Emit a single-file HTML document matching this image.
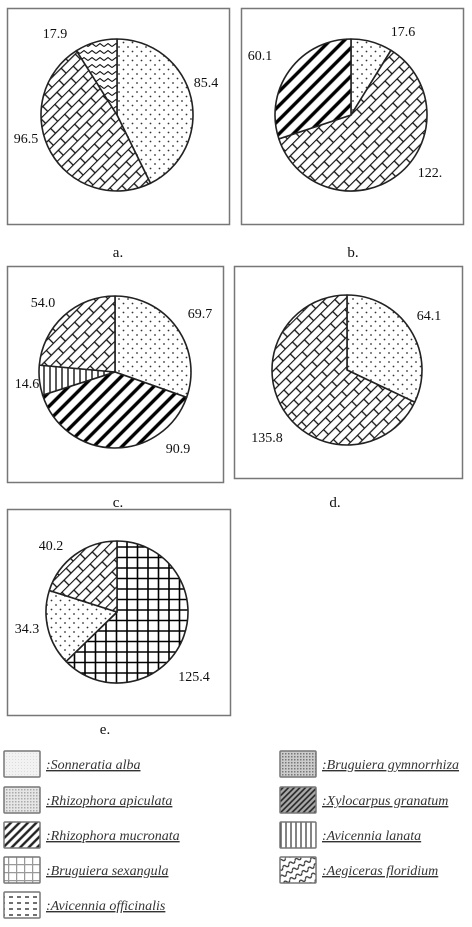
<!DOCTYPE html>
<html><head><meta charset="utf-8"><style>
html,body{margin:0;padding:0;background:#fff;}
svg{display:block;font-family:"Liberation Serif",serif;}
</style></head><body>
<svg id="fig" width="472" height="927" viewBox="0 0 472 927" xmlns="http://www.w3.org/2000/svg">
<defs>
<pattern id="p-dots" width="9" height="9" patternUnits="userSpaceOnUse"><rect width="9" height="9" fill="#fff"/><circle cx="2" cy="2" r="0.9" fill="#333"/><circle cx="6.5" cy="6.5" r="0.9" fill="#333"/></pattern>
<pattern id="p-brick" width="20" height="14" patternUnits="userSpaceOnUse" patternTransform="rotate(-45)"><rect width="20" height="14" fill="#fff"/><path d="M0 0.5H20M0 7.5H20M5 0.5V7.5M15 7.5V14.5" stroke="#111" stroke-width="1.3" fill="none"/></pattern>
<pattern id="p-zig" width="8" height="7" patternUnits="userSpaceOnUse"><rect width="8" height="7" fill="#fff"/><path d="M0 4.5L4 1.5L8 4.5" stroke="#111" stroke-width="1.1" fill="none"/></pattern>
<pattern id="p-diag" width="10" height="10" patternUnits="userSpaceOnUse" patternTransform="rotate(45)"><rect width="10" height="10" fill="#fff"/><line x1="2" y1="0" x2="2" y2="10" stroke="#000" stroke-width="3.4"/></pattern>
<pattern id="p-vert" width="6" height="6" patternUnits="userSpaceOnUse"><rect width="6" height="6" fill="#fff"/><line x1="2" y1="0" x2="2" y2="6" stroke="#000" stroke-width="1.3"/></pattern>
<pattern id="p-grid" width="10.5" height="10.5" patternUnits="userSpaceOnUse"><rect width="10.5" height="10.5" fill="#fff"/><path d="M1 0V10.5M0 1H10.5" stroke="#000" stroke-width="1.6"/></pattern>
<pattern id="l-light" width="3" height="3" patternUnits="userSpaceOnUse"><rect width="3" height="3" fill="#f2f2f2"/><rect width="1" height="1" fill="#ddd"/></pattern>
<pattern id="l-rhap" width="3" height="3" patternUnits="userSpaceOnUse"><rect width="3" height="3" fill="#e6e6e6"/><rect width="1.5" height="1.5" fill="#aaa"/></pattern>
<pattern id="l-diag" width="6" height="6" patternUnits="userSpaceOnUse" patternTransform="rotate(45)"><rect width="6" height="6" fill="#fff"/><line x1="1.5" y1="0" x2="1.5" y2="6" stroke="#222" stroke-width="2.4"/></pattern>
<pattern id="l-grid" width="8" height="8" patternUnits="userSpaceOnUse"><rect width="8" height="8" fill="#fff"/><path d="M0.5 0V8M0 0.5H8" stroke="#999" stroke-width="1.5"/></pattern>
<pattern id="l-dash" width="8" height="6" patternUnits="userSpaceOnUse"><rect width="8" height="6" fill="#fff"/><line x1="1" y1="3" x2="5" y2="3" stroke="#333" stroke-width="1.4"/></pattern>
<pattern id="l-bg" width="3" height="3" patternUnits="userSpaceOnUse"><rect width="3" height="3" fill="#ccc"/><rect width="1.5" height="1.5" fill="#777"/></pattern>
<pattern id="l-xg" width="4" height="4" patternUnits="userSpaceOnUse" patternTransform="rotate(45)"><rect width="4" height="4" fill="#aaa"/><line x1="1" y1="0" x2="1" y2="4" stroke="#222" stroke-width="1.6"/></pattern>
<pattern id="l-vert" width="5" height="5" patternUnits="userSpaceOnUse"><rect width="5" height="5" fill="#fff"/><line x1="1" y1="0" x2="1" y2="5" stroke="#333" stroke-width="1.2"/></pattern>
<pattern id="l-wave" width="7" height="7" patternUnits="userSpaceOnUse" patternTransform="rotate(-30)"><rect width="7" height="7" fill="#fff"/><path d="M0 4Q2 1 3.5 4T7 4" stroke="#333" stroke-width="1.3" fill="none"/></pattern>
</defs>
<g id="panels"></g>
<g id="legend"></g>
</svg>
<script>
// Chart data
const panelIds = ['a','b','c','d','e'];
const valuesA = [85.4, 96.5, 17.9];
const fillsA = ['p-dots','p-brick','p-zig'];
const labelsA = ['85.4','96.5','17.9'];
const valuesB = [17.6, 122.0, 60.1];
const fillsB = ['p-dots','p-brick','p-diag'];
const labelsB = ['17.6','122.','60.1'];
const valuesC = [69.7, 90.9, 14.6, 54.0];
const fillsC = ['p-dots','p-diag','p-vert','p-brick'];
const labelsC = ['69.7','90.9','14.6','54.0'];
const valuesD = [64.1, 135.8];
const fillsD = ['p-dots','p-brick'];
const labelsD = ['64.1','135.8'];
const valuesE = [125.4, 34.3, 40.2];
const fillsE = ['p-grid','p-dots','p-brick'];
const labelsE = ['125.4','34.3','40.2'];
const legendNames = ['Sonneratia alba','Rhizophora apiculata','Rhizophora mucronata','Bruguiera sexangula','Avicennia officinalis','Bruguiera gymnorrhiza','Xylocarpus granatum','Avicennia lanata','Aegiceras floridium'];
const legendFills = ['l-light','l-rhap','l-diag','l-grid','l-dash','l-bg','l-xg','l-vert','l-wave'];

const NS='http://www.w3.org/2000/svg';
function mk(tag, attrs, parent){const e=document.createElementNS(NS,tag);for(const k in attrs)e.setAttribute(k,attrs[k]);parent.appendChild(e);return e;}
const layout = [
 {box:[7,8,222,216],cx:117,cy:115,r:76,cap:[118,257],vals:valuesA,fills:fillsA,labels:labelsA,lp:[[206,87],[26,143],[55,38]]},
 {box:[241,8,222,216],cx:351,cy:115,r:76,cap:[353,257],vals:valuesB,fills:fillsB,labels:labelsB,lp:[[403,36],[430,177],[260,60]]},
 {box:[7,266,216,216],cx:115,cy:372,r:76,cap:[118,507],vals:valuesC,fills:fillsC,labels:labelsC,lp:[[200,318],[178,453],[27,388],[43,307]]},
 {box:[234,266,228,212],cx:347,cy:370,r:75,cap:[335,507],vals:valuesD,fills:fillsD,labels:labelsD,lp:[[429,320],[267,442]]},
 {box:[7,509,223,206],cx:117,cy:612,r:71,cap:[105,734],vals:valuesE,fills:fillsE,labels:labelsE,lp:[[194,681],[27,633],[51,550]]}
];
const panels=document.getElementById('panels');
layout.forEach((p,i)=>{
  const g=mk('g',{},panels);
  
  
  const b=mk('rect',{x:p.box[0]+0.5,y:p.box[1]+0.5,width:p.box[2],height:p.box[3],fill:'#fff',stroke:'#777','stroke-width':1.5},g);
  
  
  const total=p.vals.reduce((s,v)=>s+v,0);
  let a0=0;
  p.vals.forEach((v,j)=>{
    const a1=a0+v/total*Math.PI*2;
    const x0=p.cx+p.r*Math.sin(a0), y0=p.cy-p.r*Math.cos(a0);
    const x1=p.cx+p.r*Math.sin(a1), y1=p.cy-p.r*Math.cos(a1);
    const large=(a1-a0)>Math.PI?1:0;
    const s=mk('path',{d:`M${p.cx},${p.cy}L${x0},${y0}A${p.r},${p.r} 0 ${large} 1 ${x1},${y1}Z`,fill:`url(#${p.fills[j]})`,stroke:'#222','stroke-width':1.6,'stroke-linejoin':'round'},g);
    
    
    const t=mk('text',{x:p.lp[j][0],y:p.lp[j][1],'text-anchor':'middle','font-size':14,fill:'#111'},g);
    t.textContent=p.labels[j];
    
    
    a0=a1;
  });
  const c=mk('text',{x:p.cap[0],y:p.cap[1],'text-anchor':'middle','font-size':15,fill:'#111'},panels);
  c.textContent=panelIds[i]+'.';
  
  
});
const leg=document.getElementById('legend');
const rowsY=[751,787,822,857,892];
legendNames.forEach((n,k)=>{
  const col=k<5?0:1, row=k<5?k:k-5;
  const x=col?280:4, y=rowsY[row];
  const g=mk('g',{},leg);
  
  
  const r=mk('rect',{x:x,y:y,width:36,height:26,fill:`url(#${legendFills[k]})`,stroke:'#777','stroke-width':1.5,rx:1},g);
  
  
  const t=mk('text',{x:x+42,y:y+18,'font-size':14,'font-style':'italic',fill:'#333','text-decoration':'underline'},g);
  t.textContent=':'+n;
  
  
});
</script>
</body></html>
